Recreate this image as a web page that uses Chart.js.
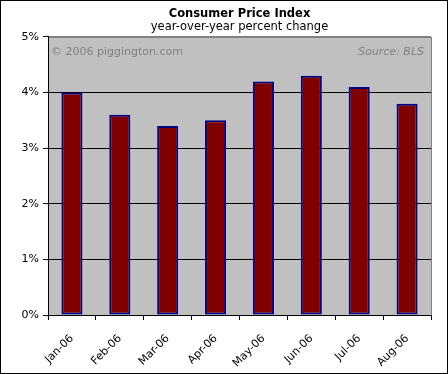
<!DOCTYPE html>
<html>
<head>
  <title>Consumer Price Index</title>
  <script src="https://cdn.jsdelivr.net/npm/chart.js"></script>
  <style>
    body { margin: 0; background: #fff; }
  </style>
</head>
<body>
  <canvas id="myChart" width="448" height="374"></canvas>

  <script>
    // datos del grafico
    var months = ['Jan-06', 'Feb-06', 'Mar-06', 'Apr-06', 'May-06', 'Jun-06', 'Jul-06', 'Aug-06'];
    var cpiChange = [4.0, 3.6, 3.4, 3.5, 4.2, 4.3, 4.1, 3.8];
    var yTicks = [0, 1, 2, 3, 4, 5];

    var fontName = '"DejaVu Sans", Verdana, sans-serif';

    // fondo, marco y textos del area de trazado
    var plotBack = {
      id: 'plotBack',
      beforeDraw: function(chart) {
        var c = chart.ctx, a = chart.chartArea;
        c.save();
        c.fillStyle = '#ffffff';
        c.fillRect(0, 0, chart.width, chart.height);
        c.strokeStyle = '#000000';
        c.lineWidth = 1;
        c.strokeRect(0.5, 0.5, chart.width - 1, chart.height - 1);
        c.fillStyle = '#c0c0c0';
        c.fillRect(a.left, a.top, a.right - a.left, a.bottom - a.top);
        c.strokeStyle = '#808080';
        c.strokeRect(Math.round(a.left) + 0.5, Math.round(a.top) + 0.5,
                     Math.round(a.right - a.left), Math.round(a.bottom - a.top));
        c.restore();
      },
      beforeDatasetsDraw: function(chart) {
        var c = chart.ctx, a = chart.chartArea;
        c.save();
        c.fillStyle = '#808080';
        c.textBaseline = 'middle';
        c.font = '11px ' + fontName;
        c.textAlign = 'left';
        c.fillText('\u00A9 2006 piggington.com', a.left + 3, a.top + 15);
        c.font = 'italic 11px ' + fontName;
        c.textAlign = 'right';
        c.fillText('Source: BLS', a.right - 7, a.top + 15);
        c.restore();
      }
    };

    var ctx = document.getElementById('myChart').getContext('2d');
    var myChart = new Chart(ctx, {
      type: 'bar',
      data: {
        labels: months,
        datasets: [{
          data: cpiChange,
          backgroundColor: '#800000',
          borderColor: '#000080',
          borderWidth: 2,
          borderSkipped: false,
          categoryPercentage: 1,
          barPercentage: 0.44
        }]
      },
      options: {
        responsive: false,
        animation: false,
        layout: { padding: { left: 0, right: 17, top: 7, bottom: 0 } },
        plugins: {
          legend: { display: false },
          tooltip: { enabled: false },
          title: {
            display: true,
            fullSize: false,
            text: 'Consumer Price Index',
            color: '#000',
            font: { family: fontName, size: 11.5, weight: 'bold', lineHeight: 1.25 },
            padding: 0
          },
          subtitle: {
            display: true,
            fullSize: false,
            text: 'year-over-year percent change',
            color: '#000',
            font: { family: fontName, size: 11.5, lineHeight: 1 },
            padding: { top: 0, bottom: 4 }
          }
        },
        scales: {
          x: {
            afterFit: function(scale) { scale.height = 59; },
            grid: {
              offset: true,
              drawOnChartArea: false,
              drawTicks: true,
              tickLength: 5,
              tickColor: '#000'
            },
            border: { display: true, color: '#000', width: 1 },
            ticks: {
              color: '#000',
              font: { family: fontName, size: 11 },
              minRotation: 45,
              maxRotation: 45,
              padding: 12
            }
          },
          y: {
            min: 0,
            max: 5,
            afterFit: function(scale) { scale.width = 48; },
            afterBuildTicks: function(scale) {
              scale.ticks = yTicks.map(function(v) { return { value: v }; });
            },
            grid: {
              color: function(c) { return c.tick && c.tick.value === 5 ? '#808080' : '#000'; },
              tickColor: '#000',
              tickLength: 5,
              lineWidth: 1
            },
            border: { display: true, color: '#000', width: 1 },
            ticks: {
              color: '#000',
              padding: 4,
              font: { family: fontName, size: 11 },
              callback: function(v) { return v + '%'; }
            }
          }
        }
      },
      plugins: [plotBack]
    });
  </script>
</body>
</html>
